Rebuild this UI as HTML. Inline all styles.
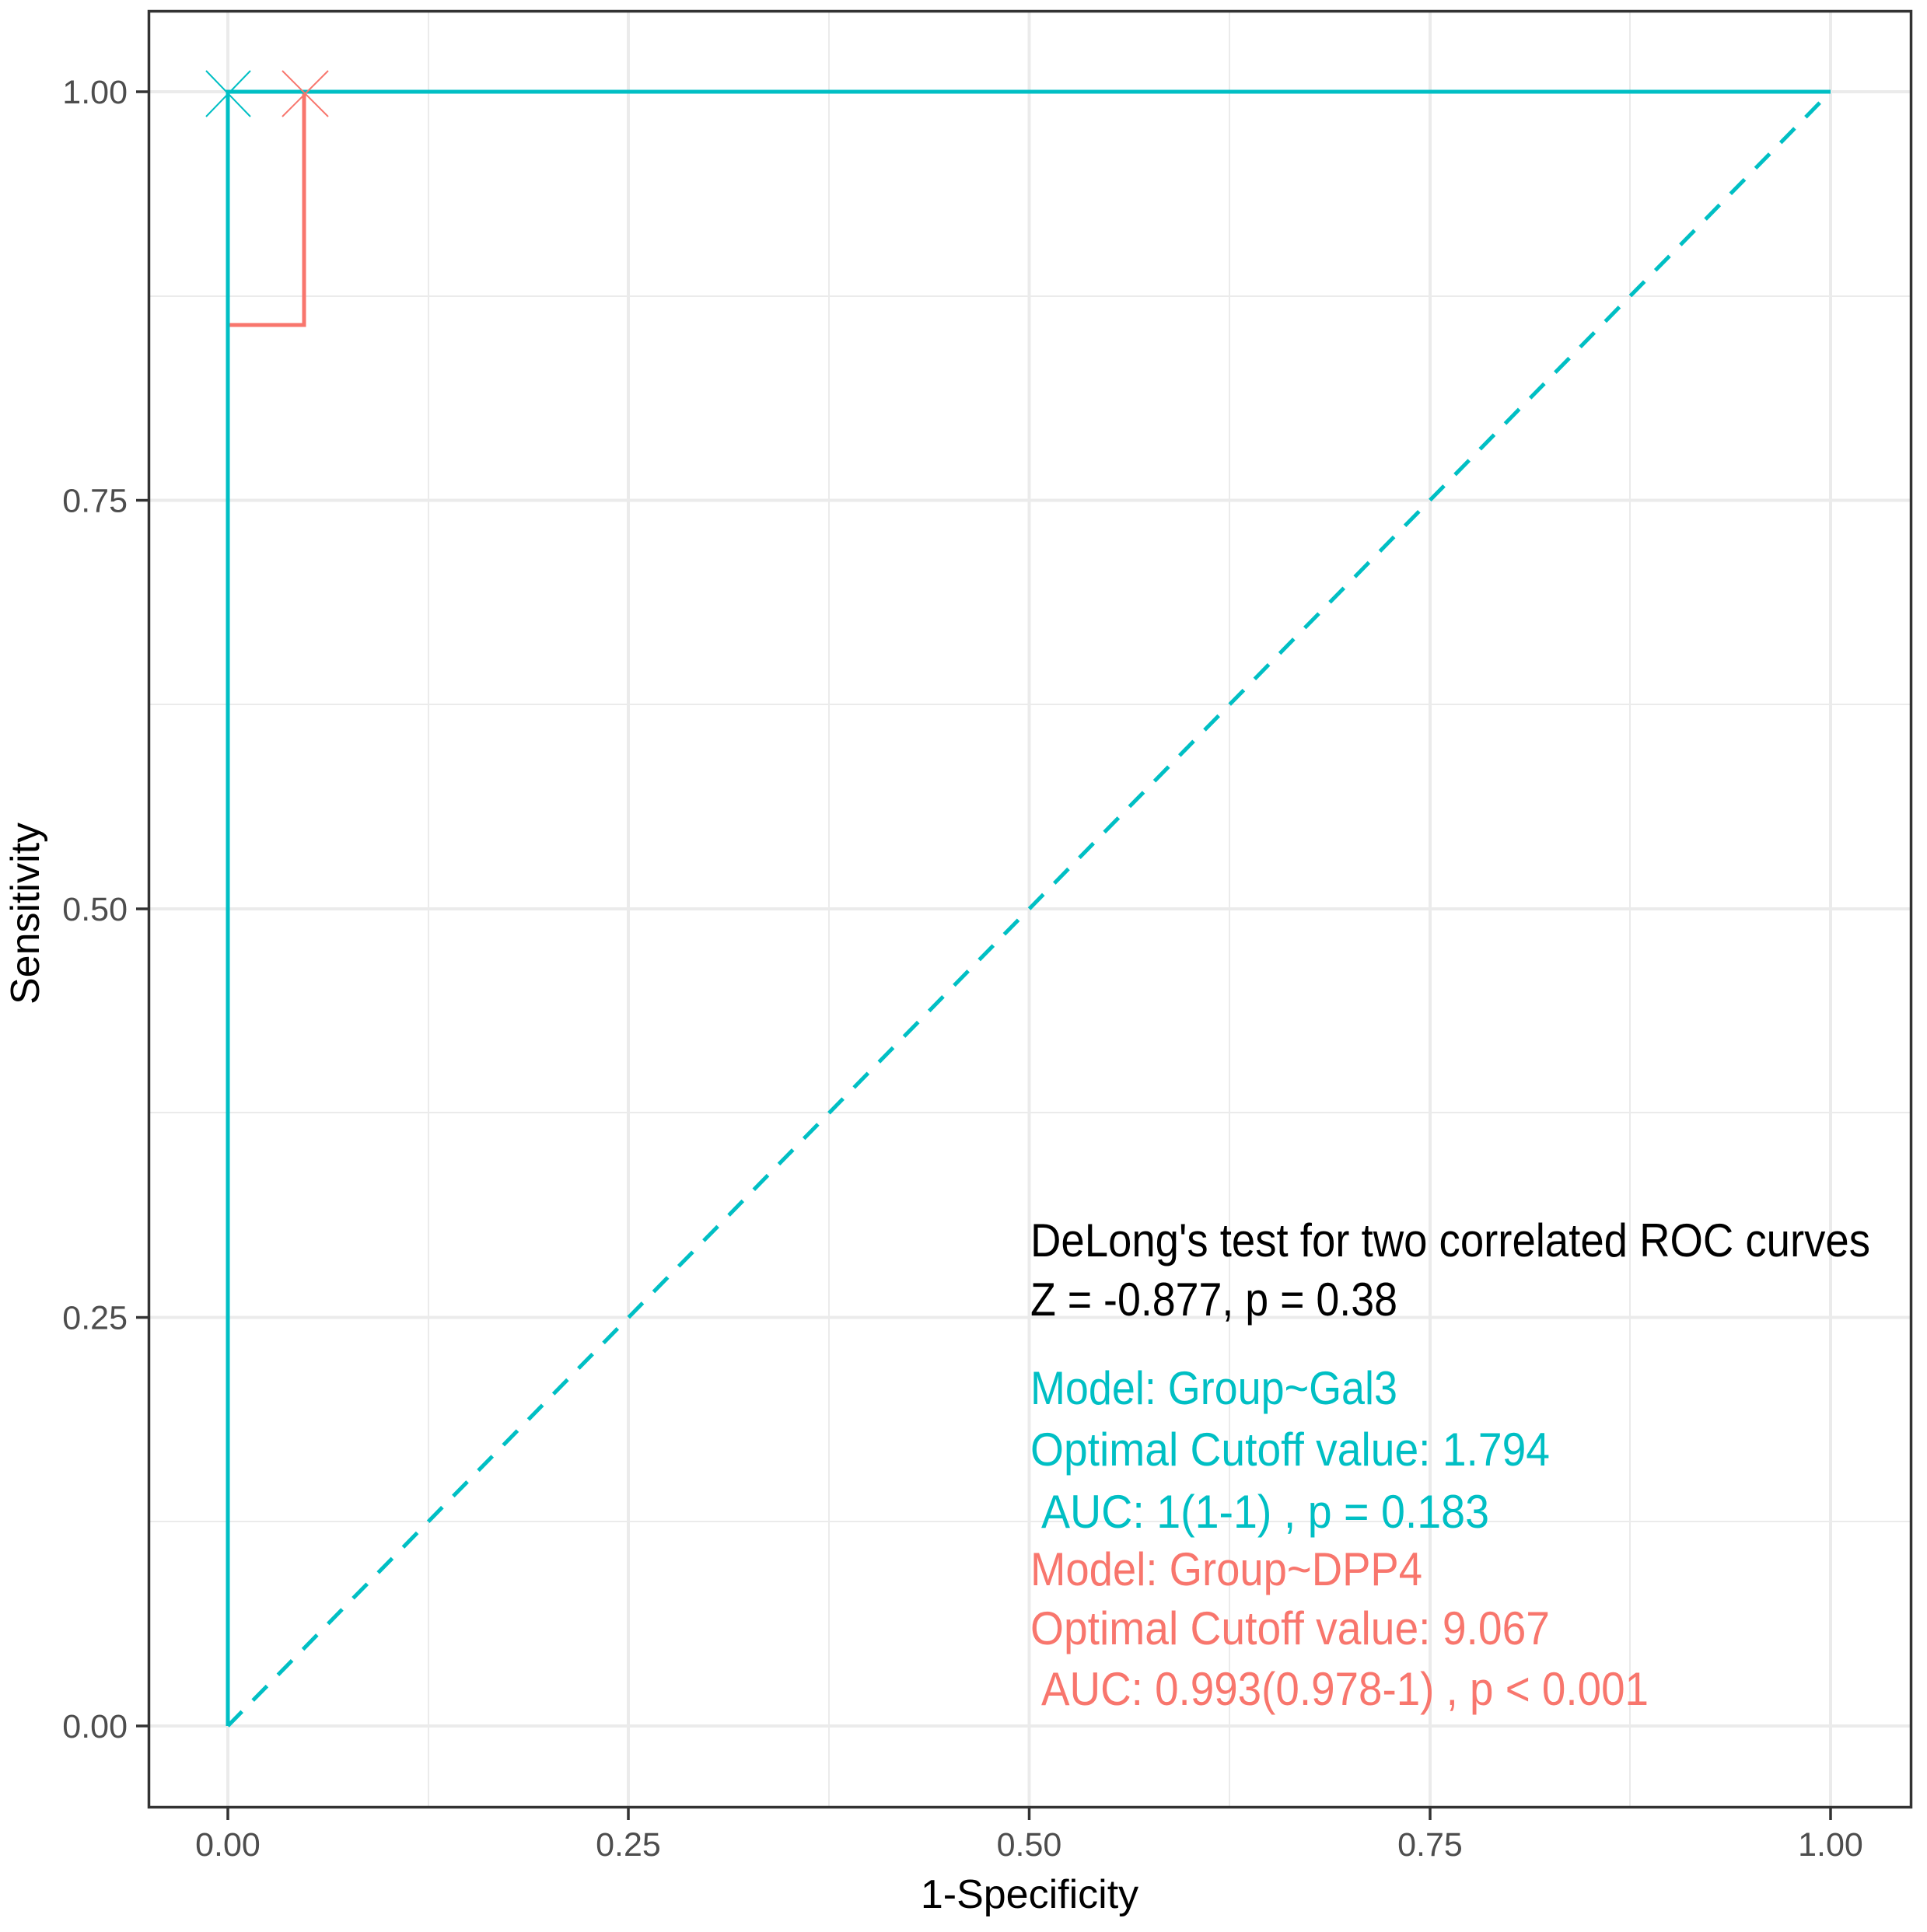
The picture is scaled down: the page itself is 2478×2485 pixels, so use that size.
<!DOCTYPE html>
<html><head><meta charset="utf-8"><style>html,body{margin:0;padding:0;background:#fff}svg{display:block}</style></head>
<body>
<svg width="2478" height="2485" viewBox="0 0 2478 2485" xmlns="http://www.w3.org/2000/svg" font-family="Liberation Sans, Arial, sans-serif">
<rect width="2478" height="2485" fill="#fff"/>
<g stroke="#EBEBEB" stroke-width="2">
<line x1="190" x2="2458" y1="1957" y2="1957"/><line x1="190" x2="2458" y1="1431" y2="1431"/><line x1="190" x2="2458" y1="906" y2="906"/><line x1="190" x2="2458" y1="381" y2="381"/>
<line y1="13" y2="2325" x1="551" x2="551"/><line y1="13" y2="2325" x1="1066" x2="1066"/><line y1="13" y2="2325" x1="1581" x2="1581"/><line y1="13" y2="2325" x1="2096" x2="2096"/>
</g>
<g stroke="#EBEBEB" stroke-width="4">
<line x1="190" x2="2458" y1="2220" y2="2220"/><line x1="190" x2="2458" y1="1694.5" y2="1694.5"/><line x1="190" x2="2458" y1="1169" y2="1169"/><line x1="190" x2="2458" y1="643.5" y2="643.5"/><line x1="190" x2="2458" y1="118" y2="118"/>
<line y1="13" y2="2325" x1="293" x2="293"/><line y1="13" y2="2325" x1="808" x2="808"/><line y1="13" y2="2325" x1="1323.5" x2="1323.5"/><line y1="13" y2="2325" x1="1839" x2="1839"/><line y1="13" y2="2325" x1="2354" x2="2354"/>
</g>
<line x1="293" y1="2220" x2="2354" y2="118" stroke="#00BFC4" stroke-width="5" stroke-dasharray="26,20"/>
<polyline points="293,2220 293,418 391,418 391,118 2354,118" fill="none" stroke="#F8766D" stroke-width="5"/>
<polyline points="293,2220 293,118 2354,118" fill="none" stroke="#00BFC4" stroke-width="5"/>
<g stroke-width="2">
<path d="M265,91 L322,150 M322,91 L265,150" stroke="#00BFC4"/>
<path d="M363,91 L422,150 M422,91 L363,150" stroke="#F8766D"/>
</g>
<rect x="191.5" y="14.5" width="2266" height="2310" fill="none" stroke="#333" stroke-width="3.5"/>
<g stroke="#333" stroke-width="3.5">
<line x1="175" x2="190" y1="2220" y2="2220"/><line x1="175" x2="190" y1="1694.5" y2="1694.5"/><line x1="175" x2="190" y1="1169" y2="1169"/><line x1="175" x2="190" y1="643.5" y2="643.5"/><line x1="175" x2="190" y1="118" y2="118"/>
<line y1="2326" y2="2341" x1="293" x2="293"/><line y1="2326" y2="2341" x1="808" x2="808"/><line y1="2326" y2="2341" x1="1323.5" x2="1323.5"/><line y1="2326" y2="2341" x1="1839" x2="1839"/><line y1="2326" y2="2341" x1="2354" x2="2354"/>
</g>
<g fill="#4D4D4D" font-size="43" text-anchor="end">
<text x="164" y="2235">0.00</text><text x="164" y="1709.5">0.25</text><text x="164" y="1184">0.50</text><text x="164" y="658.5">0.75</text><text x="164" y="133">1.00</text>
</g>
<g fill="#4D4D4D" font-size="43" text-anchor="middle">
<text x="293" y="2387">0.00</text><text x="808" y="2387">0.25</text><text x="1323.5" y="2387">0.50</text><text x="1839" y="2387">0.75</text><text x="2354" y="2387">1.00</text>
</g>
<text x="1324" y="2454" font-size="52" text-anchor="middle" fill="#000">1-Specificity</text>
<text transform="translate(50,1175) rotate(-90)" font-size="52" text-anchor="middle" fill="#000">Sensitivity</text>
<g font-size="60">
<text x="1325" y="1616" fill="#000" textLength="1080" lengthAdjust="spacingAndGlyphs">DeLong's test for two correlated ROC curves</text>
<text x="1325" y="1692" fill="#000" textLength="472" lengthAdjust="spacingAndGlyphs">Z = -0.877, p = 0.38</text>
<text x="1325" y="1806" fill="#00BFC4" textLength="472" lengthAdjust="spacingAndGlyphs">Model: Group~Gal3</text>
<text x="1325" y="1885" fill="#00BFC4" textLength="668" lengthAdjust="spacingAndGlyphs">Optimal Cutoff value:  1.794</text>
<text x="1339" y="1965" fill="#00BFC4" textLength="576" lengthAdjust="spacingAndGlyphs">AUC:  1(1-1) , p = 0.183</text>
<text x="1325" y="2039" fill="#F8766D" textLength="504" lengthAdjust="spacingAndGlyphs">Model: Group~DPP4</text>
<text x="1325" y="2115" fill="#F8766D" textLength="668" lengthAdjust="spacingAndGlyphs">Optimal Cutoff value:  9.067</text>
<text x="1339" y="2193" fill="#F8766D" textLength="781" lengthAdjust="spacingAndGlyphs">AUC:  0.993(0.978-1) , p &lt; 0.001</text>
</g>
</svg>
</body></html>
